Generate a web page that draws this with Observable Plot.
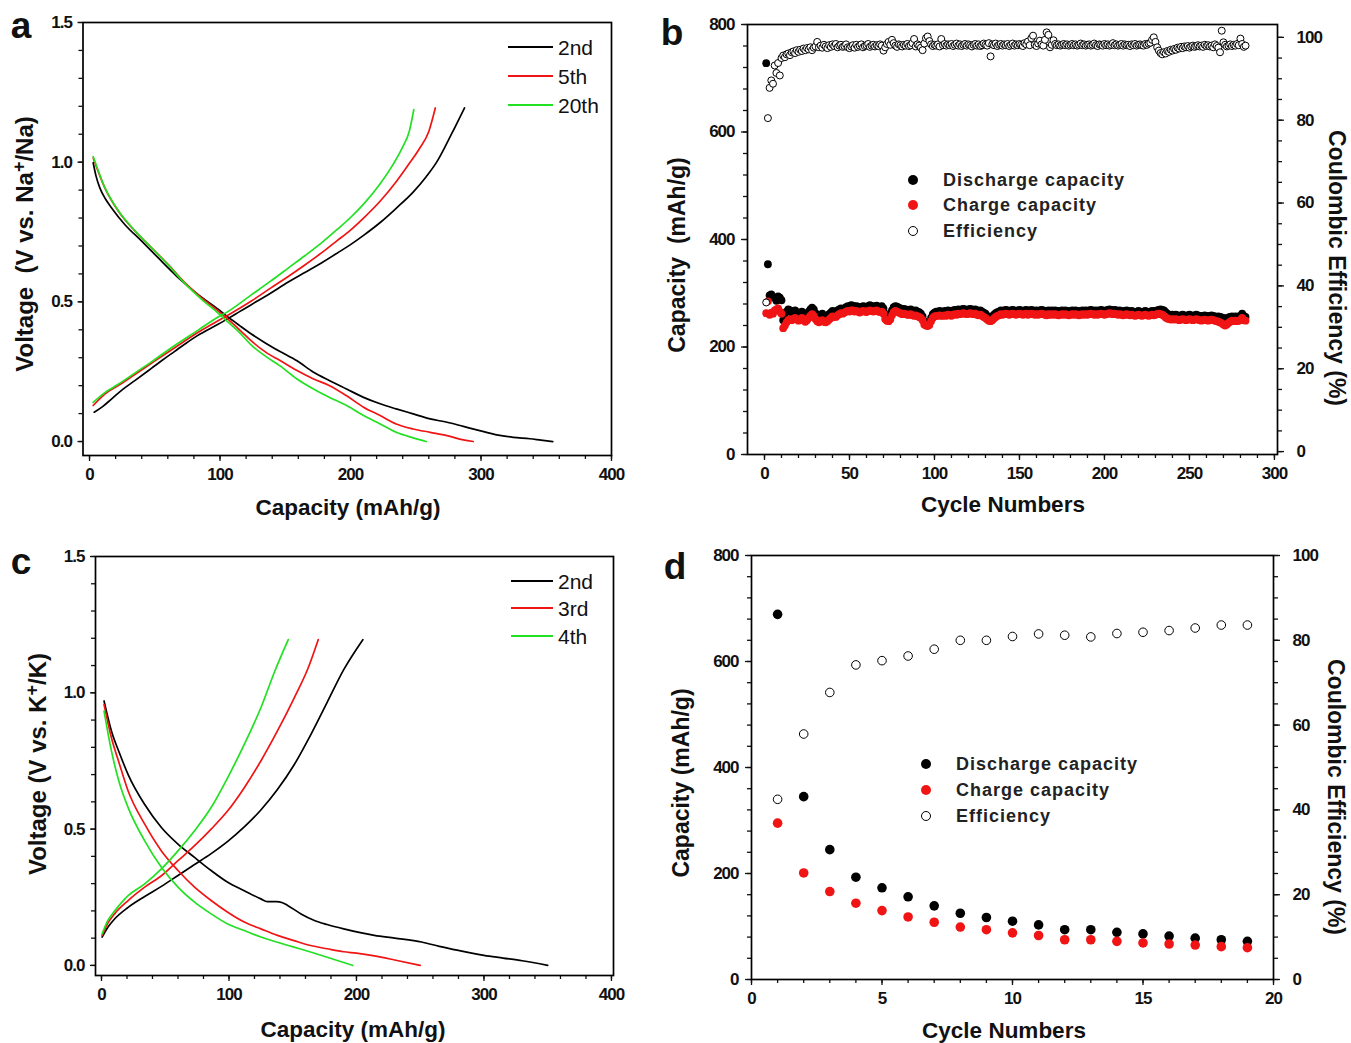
<!DOCTYPE html>
<html>
<head>
<meta charset="utf-8">
<script src="https://cdn.jsdelivr.net/npm/d3@7"></script>
<script src="https://cdn.jsdelivr.net/npm/@observablehq/plot@0.6"></script>
<style>
  html, body { margin: 0; padding: 0; background: #fff; }
  #root { position: relative; width: 1351px; height: 1043px; overflow: hidden; background: #fff;
          font-family: "Liberation Sans", Arial, Helvetica, sans-serif; color: #111; }
  #root svg { position: absolute; background: transparent; overflow: visible; }
  #root svg text { font-size: 17px !important; font-weight: bold; letter-spacing: -1px; fill: #111; }
  .t { position: absolute; white-space: nowrap; line-height: 1; }
  .title { font-weight: bold; font-size: 22.5px; transform: translate(-50%, -50%); }
  .ytitle { font-weight: bold; font-size: 23px; transform: translate(-50%, -50%) rotate(-90deg); }
  .ytitleV { font-weight: bold; font-size: 24px; transform: translate(-50%, -50%) rotate(-90deg); }
  .ytitleR { font-weight: bold; font-size: 23px; transform: translate(-50%, -50%) rotate(90deg); }
  .letter { font-weight: bold; font-size: 37px; transform: translate(-50%, -50%); }
  .legline { position: absolute; height: 2px; }
  .legtxt { font-size: 21px; transform: translateY(-50%); }
  .legdot { position: absolute; border-radius: 50%; box-sizing: border-box; }
  .legtxt2 { font-size: 18px; font-weight: bold; letter-spacing: 1px; transform: translateY(-50%); color: #222; }
  sup { font-size: 0.75em; vertical-align: 0.45em; line-height: 0; }
</style>
</head>
<body>
<div id="root"></div>
<script>
// ---------------- DATA ----------------
// Panel a: Na-ion voltage profiles  [capacity (mAh/g), voltage (V)]
const naCharge2nd = [[3.6,0.105],[10,0.125],[16.8,0.152],[25,0.185],[34.7,0.218],[47.4,0.262],[56,0.292],[65,0.322],[74,0.352],[83,0.38],[98.5,0.42],[106,0.44],[115,0.465],[124,0.49],[139,0.532],[152,0.57],[165,0.605],[178,0.64],[190,0.675],[200,0.705],[210,0.738],[223,0.785],[235,0.835],[248,0.893],[258,0.948],[266,1.0],[273,1.06],[280,1.125],[287.4,1.194]];
const naCharge5th = [[2.8,0.129],[11.7,0.17],[22,0.2],[34.7,0.24],[47.4,0.28],[65,0.335],[83,0.39],[98.5,0.432],[106,0.452],[124,0.503],[139,0.55],[152,0.59],[165,0.632],[178,0.676],[190,0.72],[200,0.757],[210,0.8],[223,0.862],[235,0.93],[245,0.995],[253,1.05],[260,1.11],[265,1.194]];
const naCharge20th = [[2.8,0.14],[11.7,0.175],[22,0.205],[34.7,0.245],[47.4,0.285],[65,0.343],[83,0.398],[98.5,0.446],[106,0.465],[124,0.525],[139,0.575],[152,0.62],[165,0.665],[178,0.712],[190,0.76],[200,0.802],[210,0.85],[223,0.925],[233,0.995],[240,1.055],[245,1.11],[248.5,1.188]];
const naDischarge2nd = [[2.8,0.998],[5,0.95],[7.9,0.908],[12,0.87],[16.8,0.837],[27,0.777],[39.8,0.718],[52.5,0.658],[67.9,0.587],[83,0.527],[98.5,0.474],[106,0.446],[115,0.415],[124,0.385],[135,0.352],[146,0.322],[159,0.289],[171.7,0.248],[184,0.218],[197,0.188],[210,0.158],[222.7,0.135],[235,0.117],[248,0.099],[261,0.081],[274,0.069],[286.5,0.054],[299,0.039],[312,0.024],[324.7,0.015],[337.5,0.01],[346,0.005],[355,0]];
const naDischarge5th = [[2.8,1.015],[11.7,0.908],[22,0.825],[34.7,0.754],[47.4,0.694],[60,0.635],[73,0.569],[85.7,0.515],[98.5,0.468],[106,0.438],[115,0.4],[124,0.36],[135,0.32],[146,0.29],[159,0.254],[171.7,0.224],[184,0.2],[197,0.164],[210,0.123],[222.7,0.093],[235,0.063],[248,0.045],[261,0.033],[274,0.021],[286.5,0.006],[294,0]];
const naDischarge20th = [[2.8,1.02],[11.7,0.91],[22,0.827],[34.7,0.755],[47.4,0.694],[60,0.633],[73,0.566],[85.7,0.51],[98.5,0.46],[106,0.428],[115,0.39],[124,0.345],[135,0.305],[146,0.271],[159,0.224],[171.7,0.188],[184,0.158],[197,0.129],[210,0.093],[222.7,0.063],[235,0.033],[248,0.013],[258,0]];
const naLegend = ["2nd", "5th", "20th"];

// Panel c: K-ion voltage profiles
const kCharge2nd = [[0.5,0.104],[5,0.14],[10.4,0.171],[20.9,0.213],[33.9,0.253],[47,0.29],[60,0.33],[73,0.37],[86,0.41],[99,0.455],[112,0.508],[125,0.57],[138,0.645],[151,0.735],[164,0.845],[177,0.965],[190,1.085],[205,1.195]];
const kCharge3rd = [[0.5,0.11],[5,0.155],[10.4,0.19],[20.9,0.238],[33.9,0.287],[47,0.329],[60,0.384],[73,0.439],[86,0.5],[99,0.567],[112,0.652],[125,0.75],[138,0.86],[151,0.98],[162,1.09],[170,1.195]];
const kCharge4th = [[0.5,0.116],[5,0.165],[10.4,0.2],[20.9,0.256],[33.9,0.299],[47,0.354],[60,0.42],[73,0.494],[86,0.579],[99,0.689],[112,0.811],[125,0.945],[136,1.08],[146.5,1.195]];
const kDischarge2nd = [[2,0.97],[7.8,0.86],[14,0.78],[20.9,0.7],[33.9,0.59],[47,0.506],[60,0.445],[73,0.396],[86,0.348],[99,0.305],[112,0.274],[125,0.244],[130,0.234],[137,0.234],[142,0.23],[146,0.22],[156.5,0.189],[167,0.165],[177,0.15],[190,0.134],[203,0.12],[214,0.11],[230,0.1],[251,0.086],[265,0.07],[280,0.055],[300,0.037],[315,0.027],[330,0.017],[350,0]];
const kDischarge3rd = [[2,0.957],[7.8,0.835],[14,0.74],[20.9,0.64],[33.9,0.518],[47,0.42],[60,0.348],[73,0.287],[86,0.238],[99,0.195],[112,0.159],[125,0.134],[138,0.11],[151,0.091],[164,0.073],[177,0.061],[190,0.05],[200,0.045],[214,0.035],[230,0.02],[250,0]];
const kDischarge4th = [[2,0.933],[7.8,0.787],[14,0.67],[20.9,0.579],[33.9,0.457],[47,0.36],[60,0.287],[73,0.232],[86,0.189],[99,0.152],[112,0.128],[125,0.104],[138,0.085],[151,0.067],[164,0.049],[177,0.03],[197,0]];
const kLegend = ["2nd", "3rd", "4th"];

// Panel b: Na-ion cycling, cycles 1..283
const bDischarge = [
 728,354,296,298,293,291,286,294,292,287,
 250,262,266,270,268,264,266,268,265,262,
 264,266,262,259,262,266,270,273,270,263,
 258,256,259,262,258,255,257,261,264,267,
 266,265,268,270,272,270,272,274,276,275,
 278,277,275,276,275,273,274,276,275,274,
 276,278,276,275,276,277,275,274,276,272,
 262,257,255,260,268,274,276,275,273,272,
 270,271,270,268,269,270,268,267,268,266,
 265,262,257,248,244,243,246,254,261,264,
 266,265,267,266,265,267,266,268,267,266,
 268,269,268,270,269,270,271,270,269,270,
 271,270,269,270,268,267,268,266,264,262,
 258,255,254,257,260,263,265,266,268,267,
 268,269,268,267,268,269,268,267,268,269,
 268,267,268,269,267,268,269,268,267,268,
 267,268,269,268,267,266,268,267,268,267,
 268,267,266,267,268,267,268,267,266,267,
 268,267,268,267,266,267,268,267,268,267,
 268,269,268,267,268,267,268,269,268,267,
 268,269,270,269,268,269,268,267,268,267,
 266,267,268,267,266,267,266,265,266,267,
 266,265,266,267,266,265,266,267,266,267,
 268,269,270,269,268,265,262,260,259,260,
 259,260,259,258,259,260,259,258,259,260,
 259,258,259,260,259,258,257,258,259,258,
 257,258,259,258,257,256,257,256,255,254,
 252,253,255,256,257,256,257,256,257,258,
 262,258,256];
const bCharge = [
 263,285,260,264,262,268,270,272,266,262,
 235,240,246,250,252,250,252,254,252,249,
 251,254,250,247,250,254,258,261,258,252,
 248,246,248,250,247,246,248,251,254,257,
 256,256,259,261,263,262,264,266,267,266,
 268,268,266,267,266,264,266,267,266,265,
 267,268,267,266,267,268,266,265,266,262,
 252,249,248,251,259,265,267,266,264,263,
 261,262,261,260,260,261,259,258,259,257,
 256,254,250,242,240,239,241,248,254,257,
 258,258,259,258,258,259,258,260,259,258,
 260,261,260,262,261,262,263,262,261,262,
 263,262,261,262,260,259,260,258,256,254,
 251,249,248,250,253,256,258,259,261,260,
 261,262,261,260,261,262,261,260,261,262,
 261,260,261,262,260,261,262,261,260,261,
 260,261,262,261,260,259,261,260,261,260,
 261,260,259,260,261,260,261,260,259,260,
 261,260,261,260,259,260,261,260,261,260,
 261,262,261,260,261,260,261,262,261,260,
 261,262,263,262,261,262,261,260,261,260,
 259,260,261,260,259,260,259,258,259,260,
 259,258,259,260,259,258,259,260,259,260,
 261,262,261,260,258,255,253,252,251,252,
 251,252,251,250,251,252,251,250,251,252,
 251,250,251,252,251,250,249,250,251,250,
 249,250,251,250,249,248,247,246,244,242,
 240,242,245,247,249,248,249,248,249,250,
 254,250,249];
const bEfficiency = [
 36,80.5,87.8,89.6,88.8,93.2,91.4,93.8,90.8,95.0,
 95.6,95.2,95.9,96.1,95.7,96.4,96.6,96.2,96.9,96.5,
 97.0,96.7,97.3,96.9,97.4,97.1,97.6,96.9,97.5,97.8,
 98.9,97.6,98.0,97.5,98.2,97.8,97.4,98.1,97.7,98.3,
 97.9,98.4,97.6,98.0,98.2,97.7,97.9,98.3,97.6,97.4,
 97.8,98.1,97.5,98.2,97.7,98.0,98.3,97.6,97.9,98.1,
 98.4,97.7,98.0,98.2,97.8,98.1,97.9,98.3,98.0,96.8,
 97.6,98.4,98.9,98.2,99.4,98.6,98.0,97.7,98.3,98.1,
 97.8,98.2,98.0,98.4,97.9,98.1,98.6,99.6,97.8,98.3,
 98.0,97.5,96.9,98.5,99.8,100.2,99.1,98.3,97.9,98.2,
 98.0,98.3,97.8,99.6,98.1,98.4,98.0,98.3,98.1,98.4,
 97.9,98.2,98.5,98.0,98.3,97.9,98.2,98.4,98.0,98.3,
 98.1,97.8,98.2,98.4,98.0,98.3,97.9,98.1,98.5,98.2,
 98.0,98.6,95.4,98.3,98.1,98.5,97.9,98.2,98.4,98.0,
 98.3,98.1,98.4,97.9,98.2,98.5,98.0,98.3,98.1,98.4,
 98.2,97.9,98.6,98.3,99.0,98.1,99.8,100.4,98.2,97.9,
 98.5,99.2,98.3,98.0,99.4,101.2,100.6,97.6,98.2,99.3,
 98.4,98.1,98.3,98.0,98.2,98.4,98.1,98.3,98.0,98.2,
 98.4,98.1,98.3,98.0,98.2,98.5,98.1,98.3,98.0,98.2,
 98.3,98.0,98.2,98.5,98.1,97.9,98.3,98.2,98.0,98.4,
 98.1,98.3,98.0,98.2,98.6,98.1,98.3,98.0,98.2,98.4,
 98.0,98.3,98.1,98.2,97.9,98.3,98.1,98.4,98.0,98.2,
 98.3,98.1,98.0,98.4,98.2,98.5,98.7,99.4,100.0,98.9,
 97.6,96.8,96.2,95.9,96.4,96.1,96.7,96.5,97.0,96.8,
 97.2,97.0,97.5,97.3,97.7,97.4,97.8,97.6,97.9,97.5,
 97.8,98.0,97.7,97.9,98.1,97.8,98.0,97.7,98.2,97.9,
 98.1,97.8,98.0,97.6,98.3,97.9,97.5,96.4,101.6,98.8,
 98.2,97.8,98.0,98.3,97.9,98.2,98.0,98.4,98.1,99.7,
 98.4,97.7,98.0];

// Panel d: K-ion cycling, cycles 1..19
const dDischarge = [689,345,245,193,173,156,139,125,117,110,103,94,94,89,86,82,78,75,72];
const dCharge = [295,201,166,144,130,118,108,99,94,88,83,75,75,72,69,67,65,62,60];
const dEfficiency = [42.5,57.9,67.7,74.2,75.2,76.3,77.9,80.0,80.0,80.9,81.5,81.2,80.8,81.6,81.9,82.3,82.9,83.6,83.6];
const cycLegend = ["Discharge capacity", "Charge capacity", "Efficiency"];

// ---------------- RENDER ----------------
const FONT = '"Liberation Sans", Arial, Helvetica, sans-serif';
const BLACK = "#000", RED = "#f01414", GREEN = "#22e022";
const root = document.getElementById("root");
const baseStyle = {fontFamily: FONT, fontSize: "17px", fontWeight: "bold", background: "transparent", overflow: "visible", color: "#111"};

function place(svg, left, top) { svg.style.left = left + "px"; svg.style.top = top + "px"; root.appendChild(svg); }
function addText(html, cls, x, y, extra) {
  const d = document.createElement("div");
  d.className = "t " + cls; d.innerHTML = html;
  d.style.left = x + "px"; d.style.top = y + "px";
  if (extra) Object.assign(d.style, extra);
  root.appendChild(d); return d;
}
const toXY = arr => arr.map(([x, y]) => ({x, y}));
const toCyc = arr => arr.map((v, i) => ({cycle: i + 1, v}));
const minor = (a, b, s) => d3.range(Math.round(a / s), Math.round(b / s) + 1).map(k => +(k * s).toFixed(6));

function lineMarks(series) {
  return series.map(([arr, col]) => Plot.line(toXY(arr), {x: "x", y: "y", stroke: col, strokeWidth: 1.7, curve: "monotone-x"}));
}

function voltagePanel({left, top, width, height, mL, mR, mT, mB, xDomain, yDomain, series}) {
  const svg = Plot.plot({
    width, height, marginLeft: mL, marginRight: mR, marginTop: mT, marginBottom: mB,
    x: {domain: xDomain}, y: {domain: yDomain},
    style: baseStyle,
    marks: [
      Plot.axisX(minor(0, 400, 20), {anchor: "bottom", tickSize: 4, tickFormat: () => "", label: null, strokeWidth: 1.3}),
      Plot.axisX([0, 100, 200, 300, 400], {anchor: "bottom", tickSize: 6, tickPadding: 6, label: null, strokeWidth: 1.3}),
      Plot.axisY(minor(0, 1.5, 0.1), {anchor: "left", tickSize: 4, tickFormat: () => "", label: null, strokeWidth: 1.3}),
      Plot.axisY([0, 0.5, 1, 1.5], {anchor: "left", tickSize: 5, tickPadding: 6, tickFormat: d3.format(".1f"), label: null, strokeWidth: 1.3}),
      ...lineMarks(series),
      Plot.frame({stroke: "#000", strokeWidth: 1.7})
    ]
  });
  place(svg, left, top);
}

function cyclePanel({left, top, width, height, mL, mR, mT, mB, xDomain, xMajor, xMinor, yRightDomain, discharge, charge, eff, rFill, rOpen, rightMinor}) {
  const common = {width, height, marginLeft: mL, marginRight: mR, marginTop: mT, marginBottom: mB, style: baseStyle};
  const left1 = Plot.plot({
    ...common,
    x: {domain: xDomain},
    y: {domain: [0, 800]},
    marks: [
      Plot.axisX(xMinor, {anchor: "bottom", tickSize: 4, tickFormat: () => "", label: null, strokeWidth: 1.3}),
      Plot.axisX(xMajor, {anchor: "bottom", tickSize: 6, tickPadding: 6, label: null, strokeWidth: 1.3}),
      Plot.axisY(minor(0, 800, 40), {anchor: "left", tickSize: 4, tickFormat: () => "", label: null, strokeWidth: 1.3}),
      Plot.axisY([0, 200, 400, 600, 800], {anchor: "left", tickSize: 6, tickPadding: 7, label: null, strokeWidth: 1.3}),
      Plot.dot(toCyc(discharge), {x: "cycle", y: "v", r: rFill, fill: BLACK, stroke: null}),
      Plot.dot(toCyc(charge), {x: "cycle", y: "v", r: rFill, fill: RED, stroke: null}),
      Plot.frame({stroke: "#000", strokeWidth: 1.7})
    ]
  });
  place(left1, left, top);
  const right1 = Plot.plot({
    ...common,
    x: {domain: xDomain, axis: null},
    y: {domain: yRightDomain},
    marks: [
      Plot.axisY(minor(0, 100, rightMinor), {anchor: "right", tickSize: 4, tickFormat: () => "", label: null, strokeWidth: 1.3}),
      Plot.axisY([0, 20, 40, 60, 80, 100], {anchor: "right", tickSize: 6, tickPadding: 13, label: null, strokeWidth: 1.3}),
      Plot.dot(toCyc(eff), {x: "cycle", y: "v", r: rOpen, fill: "#fff", stroke: "#000", strokeWidth: 1})
    ]
  });
  place(right1, left, top);
}

// Panel a
voltagePanel({left: 0, top: 0, width: 660, height: 530, mL: 82.5, mR: 49, mT: 22, mB: 75,
  xDomain: [-5, 400], yDomain: [-0.05, 1.5],
  series: [[naCharge2nd, BLACK], [naDischarge2nd, BLACK], [naCharge5th, RED], [naDischarge5th, RED], [naCharge20th, GREEN], [naDischarge20th, GREEN]]});
// Panel c
voltagePanel({left: 0, top: 530, width: 660, height: 513, mL: 95, mR: 47, mT: 26, mB: 68,
  xDomain: [-4.7, 401.6], yDomain: [-0.037, 1.5],
  series: [[kCharge2nd, BLACK], [kDischarge2nd, BLACK], [kCharge3rd, RED], [kDischarge3rd, RED], [kCharge4th, GREEN], [kDischarge4th, GREEN]]});
// Panel b
cyclePanel({left: 660, top: 0, width: 691, height: 530, mL: 87, mR: 74, mT: 24, mB: 76,
  xDomain: [-10, 301.8], xMajor: [0, 50, 100, 150, 200, 250, 300], xMinor: minor(0, 300, 10),
  yRightDomain: [-0.7, 103.1], discharge: bDischarge, charge: bCharge, eff: bEfficiency, rFill: 3.9, rOpen: 3.5, rightMinor: 5});
// Panel d
cyclePanel({left: 660, top: 530, width: 691, height: 513, mL: 91, mR: 78, mT: 25, mB: 64,
  xDomain: [0, 20], xMajor: [0, 5, 10, 15, 20], xMinor: minor(0, 20, 1),
  yRightDomain: [0, 100], discharge: dDischarge, charge: dCharge, eff: dEfficiency, rFill: 4.8, rOpen: 4.3, rightMinor: 5});

// ---------------- TEXT / LEGENDS ----------------
addText("a", "letter", 21, 25);
addText("b", "letter", 672, 32);
addText("c", "letter", 21, 561);
addText("d", "letter", 675, 566);

addText("Capacity (mAh/g)", "title", 348, 508);
addText("Cycle Numbers", "title", 1003, 505);
addText("Capacity (mAh/g)", "title", 353, 1030);
addText("Cycle Numbers", "title", 1004, 1031);

addText("Voltage&nbsp; (V vs. Na<sup>+</sup>/Na)", "ytitleV", 25, 244);
addText("Voltage (V vs. K<sup>+</sup>/K)", "ytitleV", 38, 764);
addText("Capacity&nbsp; (mAh/g)", "ytitle", 677, 255);
addText("Capacity (mAh/g)", "ytitle", 681, 783);
addText("Coulombic Efficiency (%)", "ytitleR", 1336, 268);
addText("Coulombic Efficiency (%)", "ytitleR", 1335, 797);

function lineLegend(labels, x0, x1, ys) {
  const cols = [BLACK, RED, GREEN];
  labels.forEach((lab, i) => {
    const l = document.createElement("div");
    l.className = "legline";
    Object.assign(l.style, {left: x0 + "px", top: (ys[i] - 1) + "px", width: (x1 - x0) + "px", background: cols[i]});
    root.appendChild(l);
    addText(lab, "legtxt", x1 + 5, ys[i]);
  });
}
lineLegend(naLegend, 508, 553, [47, 76, 105]);
lineLegend(kLegend, 511, 553, [581, 608, 636]);

function dotLegend(labels, cx, tx, ys, r) {
  const styles = [{background: BLACK}, {background: RED}, {background: "#fff", border: "1px solid #000"}];
  labels.forEach((lab, i) => {
    const d = document.createElement("div");
    d.className = "legdot";
    Object.assign(d.style, {left: (cx - r) + "px", top: (ys[i] - r) + "px", width: 2 * r + "px", height: 2 * r + "px"}, styles[i]);
    root.appendChild(d);
    addText(lab, "legtxt2", tx, ys[i]);
  });
}
dotLegend(cycLegend, 913, 943, [180, 205, 231], 5);
dotLegend(cycLegend, 926, 956, [764, 790, 816], 5);
</script>
</body>
</html>
